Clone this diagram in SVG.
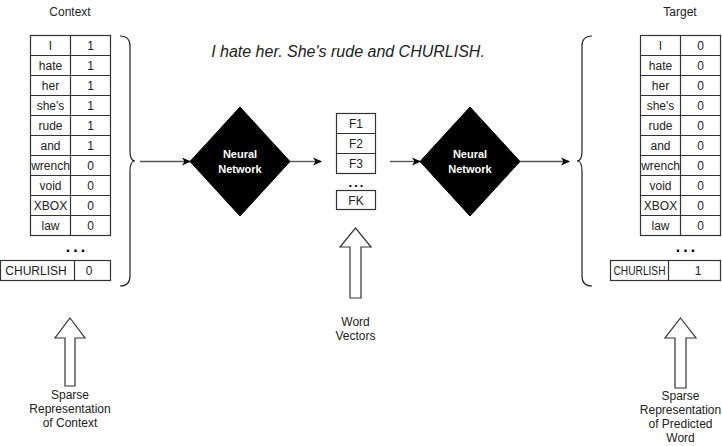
<svg xmlns="http://www.w3.org/2000/svg" width="722" height="446" viewBox="0 0 722 446">
<style>
text{font-family:"Liberation Sans",Arial,sans-serif;fill:#222;font-size:12px;text-anchor:middle}
.cell{fill:#fff;stroke:#333;stroke-width:1.2}
.dots{font-size:16px;font-weight:bold;fill:#000;letter-spacing:3px}
.nn{fill:#fff;font-weight:bold;font-size:11px}
.brace{fill:none;stroke:#222;stroke-width:1.2}
.conn{fill:none;stroke:#555;stroke-width:1.4}
.block{fill:#fff;stroke:#333;stroke-width:1.2}
.dia{fill:#000;stroke:#000}
</style>
<defs>
<marker id="ah" markerWidth="10" markerHeight="10" refX="8" refY="5" orient="auto" markerUnits="userSpaceOnUse">
<path d="M0,1 L9,5 L0,9 L2.5,5 Z" fill="#000"/>
</marker>
</defs>

<text x="70" y="16">Context</text>
<text x="680" y="16">Target</text>
<text x="348" y="57" style="font-size:16px;font-style:italic">I hate her. She's rude and CHURLISH.</text>

<g id="context-table">
<rect class="cell" x="30.5" y="35.5" width="80" height="200"/>
<path class="cell" d="M70.5,35.5V235.5M30.5,55.5H110.5M30.5,75.5H110.5M30.5,95.5H110.5M30.5,115.5H110.5M30.5,135.5H110.5M30.5,155.5H110.5M30.5,175.5H110.5M30.5,195.5H110.5M30.5,215.5H110.5"/>
<text x="50.5" y="50">I</text><text x="90.5" y="50">1</text>
<text x="50.5" y="70">hate</text><text x="90.5" y="70">1</text>
<text x="50.5" y="90">her</text><text x="90.5" y="90">1</text>
<text x="50.5" y="110">she's</text><text x="90.5" y="110">1</text>
<text x="50.5" y="130">rude</text><text x="90.5" y="130">1</text>
<text x="50.5" y="150">and</text><text x="90.5" y="150">1</text>
<text x="50.5" y="170">wrench</text><text x="90.5" y="170">0</text>
<text x="50.5" y="190">void</text><text x="90.5" y="190">0</text>
<text x="50.5" y="210">XBOX</text><text x="90.5" y="210">0</text>
<text x="50.5" y="230">law</text><text x="90.5" y="230">0</text>
<text class="dots" x="77" y="252">...</text>
<rect class="cell" x="0.5" y="260.5" width="110" height="20"/>
<path class="cell" d="M74.5,260.5V280.5"/>
<text x="36" y="275">CHURLISH</text><text x="89" y="275">0</text>
</g>

<g id="target-table">
<rect class="cell" x="640.5" y="35.5" width="80" height="200"/>
<path class="cell" d="M680.5,35.5V235.5M640.5,55.5H720.5M640.5,75.5H720.5M640.5,95.5H720.5M640.5,115.5H720.5M640.5,135.5H720.5M640.5,155.5H720.5M640.5,175.5H720.5M640.5,195.5H720.5M640.5,215.5H720.5"/>
<text x="660.5" y="50">I</text><text x="700.5" y="50">0</text>
<text x="660.5" y="70">hate</text><text x="700.5" y="70">0</text>
<text x="660.5" y="90">her</text><text x="700.5" y="90">0</text>
<text x="660.5" y="110">she's</text><text x="700.5" y="110">0</text>
<text x="660.5" y="130">rude</text><text x="700.5" y="130">0</text>
<text x="660.5" y="150">and</text><text x="700.5" y="150">0</text>
<text x="660.5" y="170">wrench</text><text x="700.5" y="170">0</text>
<text x="660.5" y="190">void</text><text x="700.5" y="190">0</text>
<text x="660.5" y="210">XBOX</text><text x="700.5" y="210">0</text>
<text x="660.5" y="230">law</text><text x="700.5" y="230">0</text>
<text class="dots" x="687" y="252">...</text>
<rect class="cell" x="610.5" y="260.5" width="110" height="20"/>
<path class="cell" d="M668.5,260.5V280.5"/>
<text x="639.5" y="275" textLength="52" lengthAdjust="spacingAndGlyphs">CHURLISH</text><text x="698" y="275">1</text>
</g>

<g id="context-brace">
<path class="brace" d="M120,36 Q130,36 130,46 L130,151 Q130,161 135,161 Q130,161 130,171 L130,276 Q130,286 120,286"/>
</g>
<g id="target-brace">
<path class="brace" d="M592,36 Q582,36 582,46 L582,151 Q582,161 577,161 Q582,161 582,171 L582,276 Q582,286 592,286"/>
</g>

<g id="nn1">
<polygon class="dia" points="240,107 290,161.5 240,216 190,161.5"/>
<text class="nn" x="240" y="158">Neural</text>
<text class="nn" x="240" y="173">Network</text>
</g>
<g id="nn2">
<polygon class="dia" points="470,107 520,161.5 470,216 420,161.5"/>
<text class="nn" x="470" y="158">Neural</text>
<text class="nn" x="470" y="173">Network</text>
</g>

<g id="word-vectors">
<rect class="cell" x="336.5" y="113.5" width="39" height="60"/>
<path class="cell" d="M336.5,133.5H375.5M336.5,153.5H375.5"/>
<text x="356" y="128">F1</text>
<text x="356" y="148">F2</text>
<text x="356" y="168">F3</text>
<text class="dots" x="357" y="187" style="font-size:13px;letter-spacing:2px">...</text>
<rect class="cell" x="336.5" y="190.5" width="39" height="19"/>
<text x="356" y="205">FK</text>
</g>

<g id="arrow-context">
<polygon class="block" points="70,318 85,338 75,338 75,386 65,386 65,338 55,338"/>
<text x="70" y="399">Sparse</text>
<text x="70" y="413">Representation</text>
<text x="70" y="427">of Context</text>
</g>
<g id="arrow-vectors">
<polygon class="block" points="355.5,228 371,247 361,247 361,298 350,298 350,247 340,247"/>
<text x="355.5" y="326">Word</text>
<text x="355.5" y="340">Vectors</text>
</g>
<g id="arrow-target">
<polygon class="block" points="680.5,318 696,338 686,338 686,388 675,388 675,338 665,338"/>
<text x="680.5" y="400">Sparse</text>
<text x="680.5" y="414">Representation</text>
<text x="680.5" y="428">of Predicted</text>
<text x="680.5" y="442">Word</text>
</g>

<g id="connectors">
<path class="conn" d="M140,161.5H190" marker-end="url(#ah)"/>
<path class="conn" d="M290,161.5H321" marker-end="url(#ah)"/>
<path class="conn" d="M390,161.5H420" marker-end="url(#ah)"/>
<path class="conn" d="M520,161.5H569" marker-end="url(#ah)"/>
</g>
</svg>
